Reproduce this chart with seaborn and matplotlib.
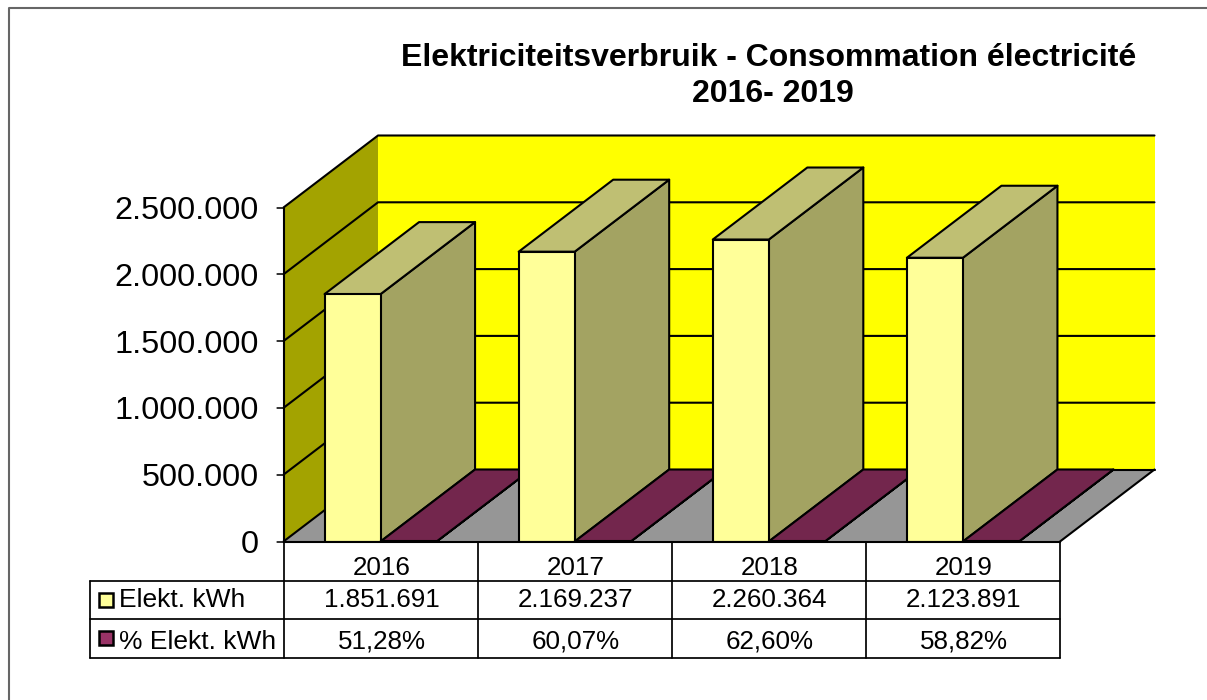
import matplotlib
matplotlib.use('Agg')
import matplotlib.pyplot as plt
import pandas as pd
import seaborn as sns
from matplotlib.lines import Line2D
from matplotlib.patches import Polygon, Rectangle
from matplotlib.transforms import IdentityTransform

years = ['2016', '2017', '2018', '2019']
kwh = [1851691, 2169237, 2260364, 2123891]
pct = [51.28, 60.07, 62.60, 58.82]
yticks = [0, 500000, 1000000, 1500000, 2000000, 2500000]
name_kwh = 'Elekt. kWh'
name_pct = '% Elekt. kWh'

W, H = 1207, 700
DX, DY = 94.5, 72   # depth of the fake 3d box, pixels
LW = 1.5


def shade(rgb, f):
    return tuple(c * f for c in rgb)


def dots(v):
    return f'{v:,}'.replace(',', '.')


sns.set_theme(style='white')
plt.rcParams['font.family'] = ['Liberation Sans', 'DejaVu Sans']

yellow = (1, 1, 0.6)
purple = (0.6, 0.2, 0.4)

df = pd.DataFrame({
    'jaar': years * 2,
    'reeks': [name_kwh] * 4 + [name_pct] * 4,
    'waarde': kwh + [p / 100 for p in pct],
})

fig = plt.figure(figsize=(12.07, 7), dpi=100)
ax = fig.add_axes([283.5 / W, (H - 541.5) / H, 776.5 / W, 334 / H])
sns.barplot(data=df, x='jaar', y='waarde', hue='reeks', palette=[yellow, purple], saturation=1,
            width=0.577, gap=0, legend=False, edgecolor='black', linewidth=LW, ax=ax)
ax.set_xlim(-0.5, 3.5)
ax.set_ylim(0, 2500000)
ax.set_xlabel('')
ax.set_ylabel('')
ax.set_xticks([])
ax.set_yticks(yticks)
ax.set_yticklabels([dots(t) for t in yticks], fontsize=23.3, color='black')
ax.tick_params(axis='y', left=True, length=5, width=1.2, color='#222222', pad=13)
ax.patch.set_visible(False)
for s in ['top', 'right']:
    ax.spines[s].set_visible(False)
for s in ['left', 'bottom']:
    ax.spines[s].set_color('black')
    ax.spines[s].set_linewidth(LW)
    ax.spines[s].set_zorder(40)

px = IdentityTransform()
bars = sorted(ax.patches, key=lambda b: b.get_x())


def to_px(x, y):
    return ax.transData.transform((x, y))


def poly(points, color, z, edge='black', lw=LW):
    ax.add_artist(Polygon(points, closed=True, facecolor=color, edgecolor=edge,
                          linewidth=lw, transform=px, zorder=z, clip_on=False,
                          joinstyle='round'))


def line(x, y, z=3, color='black', lw=LW):
    ax.add_artist(Line2D(x, y, color=color, linewidth=lw, transform=px, zorder=z, clip_on=False))


x0, y0 = to_px(-0.5, 0)
x1, y1 = to_px(3.5, 2500000)

# outer frame of the chart area
fig.add_artist(Line2D([9, 9, W], [0, H - 7.5, H - 7.5], color='#666666', linewidth=1.5, transform=px))

# walls and floor
poly([(x0 + DX, y0 + DY), (x1 + DX, y0 + DY), (x1 + DX, y1 + DY), (x0 + DX, y1 + DY)], (1, 1, 0), 1, edge='none')
poly([(x0, y0), (x0 + DX, y0 + DY), (x0 + DX, y1 + DY), (x0, y1)], shade((1, 1, 0), 0.64), 1, edge='none')
poly([(x0, y0), (x1, y0), (x1 + DX, y0 + DY), (x0 + DX, y0 + DY)], '#969696', 1.5, edge='none')
line([x0, x0 + DX], [y0, y0 + DY])
line([x1, x1 + DX], [y0, y0 + DY])
line([x0 + DX, x1 + DX], [y0 + DY, y0 + DY])
for t in yticks[1:]:
    _, yt = to_px(0, t)
    line([x0, x0 + DX, x1 + DX], [yt, yt + DY, yt + DY])
for t in yticks:
    _, yt = to_px(0, t)
    line([x0 - 7, x0], [yt, yt], color='#333333', lw=1.1)

# depth of the bars, left to right so the next bar hides the previous one
for i, b in enumerate(bars):
    z = 5 + i * 2
    xa, ya = to_px(b.get_x(), 0)
    xb, yb = to_px(b.get_x() + b.get_width(), b.get_height())
    rgb = b.get_facecolor()[:3]
    poly([(xb, ya), (xb + DX, ya + DY), (xb + DX, yb + DY), (xb, yb)], shade(rgb, 0.64), z)
    poly([(xa, yb), (xb, yb), (xb + DX, yb + DY), (xa + DX, yb + DY)], shade(rgb, 0.75), z)
    b.set_zorder(z + 1)

# title
fig.text(768.5 / W, (H - 57.5) / H, 'Elektriciteitsverbruik - Consommation électricité',
         ha='center', va='center', fontsize=23, fontweight='bold', color='black')
fig.text(772.5 / W, (H - 93.5) / H, '2016- 2019',
         ha='center', va='center', fontsize=23, fontweight='bold', color='black')

# data table under the chart
row_y = [y0, H - 580.5, H - 619, H - 657.5]
text_y = [H - 568, H - 600, H - 642]
edges = [to_px(i - 0.5, 0)[0] for i in range(5)]
head_x = 90
tlw = 1.25
for x in edges:
    line([x, x], [row_y[0], row_y[3]], z=30, lw=tlw)
line([head_x, head_x], [row_y[1], row_y[3]], z=30, lw=tlw)
line([x0, x1], [row_y[0], row_y[0]], z=30, lw=tlw)
for yy in row_y[1:]:
    line([head_x, x1], [yy, yy], z=30, lw=tlw)

rows = [years, [dots(v) for v in kwh], [f'{p:.2f}%'.replace('.', ',') for p in pct]]
for r, cells in enumerate(rows):
    for i, s in enumerate(cells):
        ax.text((edges[i] + edges[i + 1]) / 2 + 1, text_y[r], s, transform=px, ha='center', va='center',
                fontsize=18.7, color='black', clip_on=False)

for r, (name, rgb) in enumerate([(name_kwh, yellow), (name_pct, purple)]):
    ym = (row_y[r + 1] + row_y[r + 2]) / 2
    ax.add_artist(Rectangle((99, ym - 7), 14, 14, facecolor=rgb, edgecolor='black',
                            linewidth=1.8, transform=px, clip_on=False, zorder=30))
    ax.text(119, text_y[r + 1], name, transform=px, ha='left', va='center',
            fontsize=19, color='black', clip_on=False)

fig.savefig('out.png', dpi=100)
